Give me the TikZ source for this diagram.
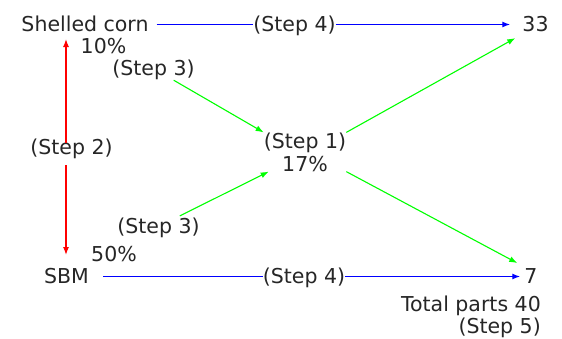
\documentclass[tikz,border=0pt]{standalone}
\usepackage{fontspec}
\setmainfont{DejaVu Sans}
\usepackage{tikz}
\usetikzlibrary{positioning}
\usetikzlibrary{arrows.meta}
\tikzset{>={Latex[length=8pt, width=6pt]}}
\tikzstyle{lbl} = [draw=none, inner sep=0, anchor=base, text height=16pt, text depth=3pt, text=black!85]
\tikzstyle{flow} = [blue, line width=1.3pt]
\tikzstyle{pull} = [red, line width=1.3pt]
\tikzstyle{feed} = [green, line width=1.1pt]

\begin{document}
\begin{tikzpicture}[x=1pt, y=-1pt, font=\fontsize{20.5}{23}\selectfont]
\useasboundingbox (0, 0) rectangle (562, 338);
\node [lbl] (corn) at (85, 31) {Shelled corn};
\node [lbl] (p10) at (103.5, 53) {10\%};
\node [lbl] (s3a) at (153.5, 75) {(Step 3)};
\node [lbl] (s2) at (71.5, 154) {(Step 2)};
\node [lbl] (s4a) at (294.5, 31) {(Step 4)};
\node [lbl] (n33) at (535.5, 31) {33};
\node [draw=none, inner sep=0, align=center, text=black!85] (s1) at (305, 152) {(Step 1)\\17\%};
\node [lbl] (s3b) at (158.5, 233) {(Step 3)};
\node [lbl] (p50) at (114, 261) {50\%};
\node [lbl] (sbm) at (66.5, 283) {SBM};
\node [lbl] (s4b) at (304, 283) {(Step 4)};
\node [lbl] (n7) at (531, 283) {7};
\node [lbl, anchor=base east] (total) at (541, 311) {Total parts 40};
\node [lbl, anchor=base east] (s5) at (541, 333) {(Step 5)};
\coordinate (rtop) at (66, 39);
\coordinate (rbot) at (66, 255);
\draw [flow, shorten <=8pt] (corn) to (s4a);
\draw [flow, ->, shorten >=12pt] (s4a) to (n33);
\draw [flow, shorten <=14pt] (sbm) to (s4b);
\draw [flow, ->, shorten >=4pt] (s4b) to (n7);
\draw [pull, ->, shorten <=-5pt] (s2.north -| rtop) to (rtop);
\draw [pull, ->, shorten <=8pt] (s2.south -| rtop) to (rbot);
\draw [feed, ->, shorten <=4pt] (s3a) to (s1.north west);
\draw [feed, ->, shorten <=2pt] (s3b) to ([xshift=5pt]s1.south west);
\draw [feed, ->, shorten >=8pt] (s1.north east) to (n33.south west);
\draw [feed, ->, shorten >=8pt] (s1.south east) to (n7.north west);
\end{tikzpicture}
\end{document}
